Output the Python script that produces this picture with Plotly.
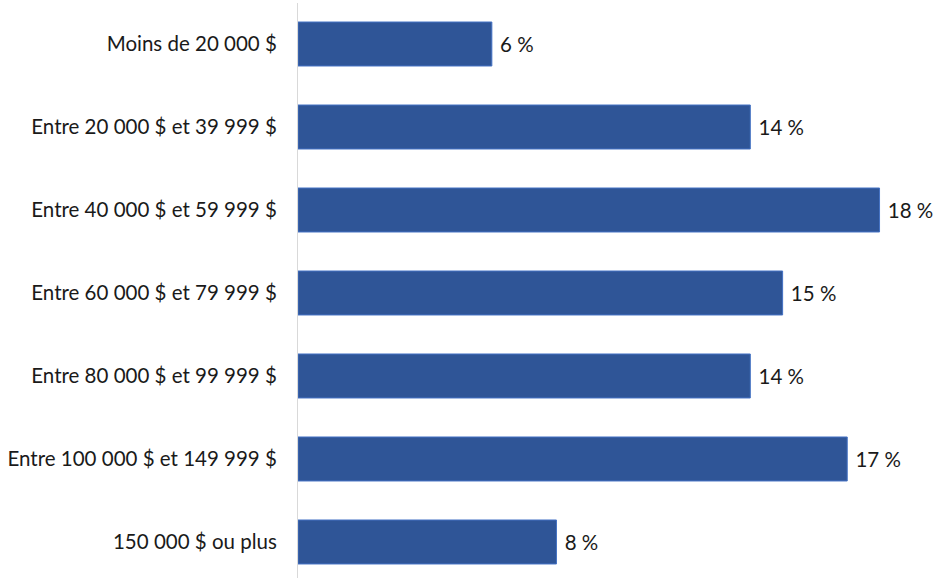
import plotly.graph_objects as go

categories = [
    'Moins de 20 000 $',
    'Entre 20 000 $ et 39 999 $',
    'Entre 40 000 $ et 59 999 $',
    'Entre 60 000 $ et 79 999 $',
    'Entre 80 000 $ et 99 999 $',
    'Entre 100 000 $ et 149 999 $',
    '150 000 $ ou plus',
]
values = [6, 14, 18, 15, 14, 17, 8]
labels = ['\u00a0' + str(v) + ' %' for v in values]

fig = go.Figure(go.Bar(
    x=values,
    y=categories,
    orientation='h',
    text=labels,
    textposition='outside',
    cliponaxis=False,
    marker=dict(color='#2F5597', line=dict(color='#4472C4', width=1)),
    textfont=dict(size=20.5, color='#1a1a1a'),
))

# bottom of the last row runs a little past the page edge, like the original
fig.update_yaxes(
    range=[6.434, -0.494], automargin=False,
    showline=True, linecolor='#D9D9D9', linewidth=1,
    ticks='', ticklabelstandoff=16,
    tickfont=dict(size=20.5, color='#1a1a1a'),
)
fig.update_xaxes(range=[0, 19.5], visible=False, automargin=False)

fig.update_layout(
    width=937, height=578,
    margin=dict(l=298, r=9, t=3, b=0, autoexpand=False),
    bargap=0.47,
    uniformtext=dict(minsize=20, mode='show'),
    plot_bgcolor='white', paper_bgcolor='white',
    font=dict(family='Lato, Open Sans, sans-serif'),
    showlegend=False,
)

# page has a default body margin, drop it so the chart sits at 0,0
fig.write_html('out.html', config={'displayModeBar': False},
               post_script="document.body.style.margin='0';")
